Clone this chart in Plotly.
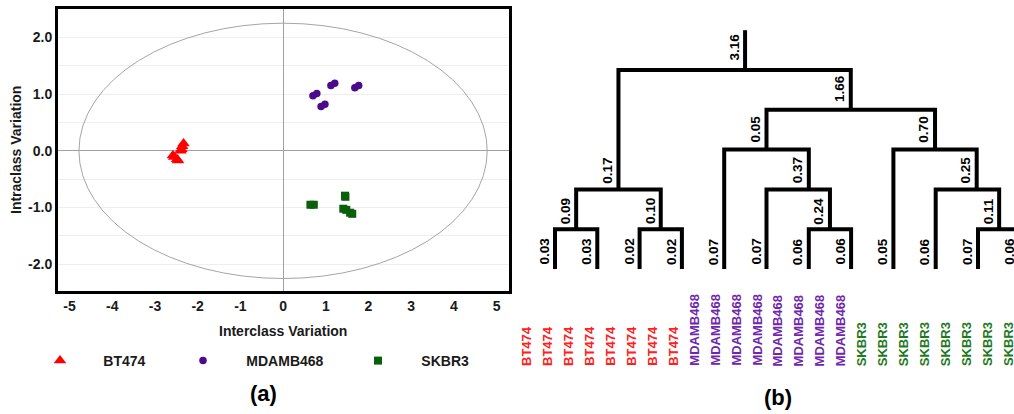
import plotly.graph_objects as go

W, H = 1024, 414   # figure is a little wider than the 1014px window, like the cropped reference

# ---------------- data: score plot (a) ----------------
classes = ["BT474", "MDAMB468", "SKBR3"]
bt474_x = [-2.33, -2.36, -2.38, -2.40, -2.58, -2.55, -2.48, -2.46]
bt474_y = [0.13, 0.08, 0.03, 0.00, -0.08, -0.11, -0.15, -0.17]
mdamb_x = [0.70, 0.79, 0.89, 0.98, 1.12, 1.21, 1.68, 1.77]
mdamb_y = [0.97, 1.01, 0.78, 0.82, 1.15, 1.19, 1.11, 1.15]
skbr3_x = [0.64, 0.72, 1.45, 1.46, 1.41, 1.48, 1.57, 1.62]
skbr3_y = [-0.95, -0.95, -0.79, -0.81, -1.02, -1.04, -1.09, -1.11]
ellipse_a = 4.78   # Hotelling ellipse semi-axes
ellipse_b = 2.25
x_ticks = [-5, -4, -3, -2, -1, 0, 1, 2, 3, 4, 5]
y_ticks = [-2.0, -1.0, 0.0, 1.0, 2.0]

# ---------------- data: dendrogram (b) ----------------
leaf_values = [0.03, 0.03, 0.02, 0.02, 0.07, 0.07, 0.06, 0.06, 0.05, 0.06, 0.07, 0.06]
# (left child, right child, branch value of the new node); node ids continue after leaves
merges = [(0, 1, 0.09), (2, 3, 0.10), (12, 13, 0.17), (6, 7, 0.24), (5, 15, 0.37),
          (4, 16, 0.05), (10, 11, 0.11), (9, 18, 0.25), (8, 19, 0.70), (17, 20, 1.66),
          (14, 21, 3.16)]
sample_labels = ["BT474"] * 8 + ["MDAMB468"] * 8 + ["SKBR3"] * 8

# ---------------- layout / styles ----------------
# where each parent stem attaches along its children's crossbar (0.5 = midpoint), as drawn
branch_attach = [0.5, 0.5, 0.5, 0.5, 0.667, 0.5, 0.5, 0.646, 0.5, 0.5, 0.545]
FONT = "Liberation Sans, Arial, Helvetica, sans-serif"
marker_colors = {"BT474": "#ff0000", "MDAMB468": "#4b0a8c", "SKBR3": "#0b5e0b"}
label_colors = {"BT474": "#ff2020", "MDAMB468": "#7026ac", "SKBR3": "#1f7a1f"}
symbols = {"BT474": "triangle-up", "MDAMB468": "circle", "SKBR3": "square"}
msizes = {"BT474": 11, "MDAMB468": 7.5, "SKBR3": 8}
legend_ids = {"BT474": "legend", "MDAMB468": "legend2", "SKBR3": "legend3"}
legend_sym_px = {"BT474": 60, "MDAMB468": 203, "SKBR3": 378}

fig = go.Figure()

series = {"BT474": (bt474_x, bt474_y), "MDAMB468": (mdamb_x, mdamb_y), "SKBR3": (skbr3_x, skbr3_y)}
pad_l = "\u00a0" * 6
for c in classes:
    xs, ys = series[c]
    fig.add_trace(go.Scatter(
        x=xs, y=ys, mode="markers", name=pad_l + c, legend=legend_ids[c],
        marker=dict(symbol=symbols[c], size=msizes[c], color=marker_colors[c], line=dict(width=0)),
        xaxis="x", yaxis="y"))

# dendrogram layout computed from tree structure
n_leaves = len(leaf_values)
node_x = list(range(n_leaves))
node_lvl = [0] * n_leaves
node_val = list(leaf_values)
for k, (a, b, v) in enumerate(merges):
    f = branch_attach[k]
    node_x.append(node_x[a] + f * (node_x[b] - node_x[a]))
    node_lvl.append(1 + max(node_lvl[a], node_lvl[b]))
    node_val.append(v)

lx, ly = [], []
for k, (a, b, v) in enumerate(merges):
    n = n_leaves + k
    lx += [node_x[a], node_x[a], node_x[b], node_x[b], None]
    ly += [node_lvl[a], node_lvl[n], node_lvl[n], node_lvl[b], None]
root = len(node_x) - 1
lx += [node_x[root], node_x[root]]
ly += [node_lvl[root], node_lvl[root] + 1]
fig.add_trace(go.Scatter(x=lx, y=ly, mode="lines", line=dict(color="black", width=4),
                         showlegend=False, hoverinfo="skip", xaxis="x2", yaxis="y2"))

annotations = []
for i in range(len(node_x)):
    annotations.append(dict(
        x=node_x[i], y=node_lvl[i], xref="x2", yref="y2", text=f"{node_val[i]:.2f}",
        textangle=-90, showarrow=False, xanchor="center", yanchor="bottom",
        xshift=-11, yshift=2 + node_lvl[i],
        font=dict(family=FONT, size=13.5, color="black", weight="bold")))

# sample labels under the tree
LEAF_PX = 42.3
LVL_PX = 39.8
label_start = (526 - 555) / LEAF_PX
label_step = (1008 - 526) / 23 / LEAF_PX
label_y = (269 - 368) / LVL_PX
for j, s in enumerate(sample_labels):
    annotations.append(dict(
        x=label_start + j * label_step, y=label_y, xref="x2", yref="y2", text=s,
        textangle=-90, showarrow=False, xanchor="center", yanchor="bottom",
        font=dict(family=FONT, size=13, color=label_colors[s], weight="bold")))

# axis titles and panel captions
annotations += [
    dict(x=283 / W, y=1 - 331 / H, xref="paper", yref="paper", text="Interclass Variation",
         xanchor="center", yanchor="middle",
         showarrow=False, font=dict(family=FONT, size=14, color="#1a1a1a", weight="bold")),
    dict(x=16 / W, y=1 - 150 / H, xref="paper", yref="paper", text="Intraclass Variation",
         xanchor="center", yanchor="middle",
         textangle=-90, showarrow=False, font=dict(family=FONT, size=14, color="#1a1a1a", weight="bold")),
    dict(x=263 / W, y=1 - 393 / H, xref="paper", yref="paper", text="(a)",
         xanchor="center", yanchor="middle",
         showarrow=False, font=dict(family=FONT, size=22, color="black", weight="bold")),
    dict(x=778 / W, y=1 - 397 / H, xref="paper", yref="paper", text="(b)",
         xanchor="center", yanchor="middle",
         showarrow=False, font=dict(family=FONT, size=22, color="black", weight="bold")),
]

shapes = [dict(type="circle", xref="x", yref="y", x0=-ellipse_a, x1=ellipse_a,
               y0=-ellipse_b, y1=ellipse_b, line=dict(color="#a5a5a5", width=1), layer="between")]

legend_style = {}
for c in classes:
    legend_style[legend_ids[c]] = dict(
        orientation="h", x=(legend_sym_px[c] - 20) / W, xanchor="left",
        y=1 - 361 / H, yanchor="middle",
        font=dict(family=FONT, size=14, color="#1a1a1a", weight="bold"),
        bgcolor="rgba(0,0,0,0)", itemclick=False, itemdoubleclick=False)

fig.update_layout(
    width=W, height=H, margin=dict(l=0, r=0, t=0, b=0),
    paper_bgcolor="white", plot_bgcolor="white",
    font=dict(family=FONT, size=14, color="#1a1a1a"),
    xaxis=dict(domain=[58 / W, 509 / W], range=[-5.27, 5.29], tickmode="array",
               tickvals=x_ticks, ticktext=[str(t) for t in x_ticks],
               tickfont=dict(family=FONT, size=14, color="#1a1a1a", weight="bold"),
               showgrid=False, zeroline=True, zerolinecolor="#a0a0a0", zerolinewidth=1,
               showline=True, mirror=True, linecolor="black", linewidth=3, ticks="",
               anchor="y", fixedrange=True),
    yaxis=dict(domain=[1 - 291 / H, 1 - 9 / H], range=[-2.47, 2.50], tickmode="array",
               tickvals=y_ticks, ticktext=[f"{t:.1f}" for t in y_ticks],
               tickfont=dict(family=FONT, size=14, color="#1a1a1a", weight="bold"),
               showgrid=True, gridcolor="#eeeeee", gridwidth=1,
               minor=dict(tickmode="array", tickvals=[-1.5, -0.5, 0.5, 1.5], showgrid=True,
                          gridcolor="#eeeeee", gridwidth=1, ticks=""),
               zeroline=True, zerolinecolor="#a0a0a0", zerolinewidth=1,
               showline=True, mirror=True, linecolor="black", linewidth=3, ticks="",
               anchor="x", fixedrange=True),
    xaxis2=dict(domain=[520 / W, 1.0], range=[(520 - 555) / LEAF_PX, (W - 555) / LEAF_PX],
                visible=False, anchor="y2", fixedrange=True),
    yaxis2=dict(domain=[0, 1], range=[(269 - 414) / LVL_PX, 269 / LVL_PX],
                visible=False, anchor="x2", fixedrange=True),
    annotations=annotations, shapes=shapes, showlegend=True,
    **legend_style,
)

fig.write_html("out.html", config={"displayModeBar": False},
               post_script="document.body.style.margin='0';document.body.style.overflow='hidden';")
